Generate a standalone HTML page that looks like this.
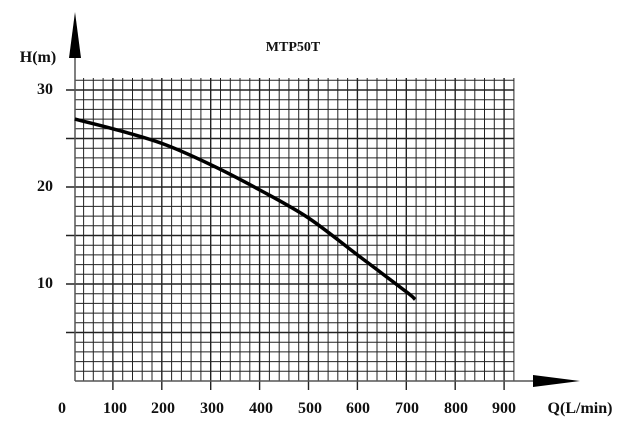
<!DOCTYPE html><html><head><style>body{margin:0;background:#fff}</style></head><body>
<svg width="623" height="437" xmlns="http://www.w3.org/2000/svg" font-family="Liberation Serif, serif" font-weight="bold">
<rect width="623" height="437" fill="#fff"/>
<g id="g" stroke="#222" stroke-width="1.1"></g>
<line x1="75" y1="50" x2="75" y2="381" stroke="#555" stroke-width="1.5"/>
<polygon points="75,12 69,58 81,58" fill="#000"/>
<line x1="75" y1="381" x2="540" y2="381" stroke="#555" stroke-width="1.5"/>
<polygon points="580,381 533,375 533,387" fill="#000"/>
<path id="c" fill="none" stroke="#000" stroke-width="3.5" d=""/>
<g font-size="16" text-anchor="middle" fill="#111">
<text x="62" y="413">0</text><text x="115" y="413">100</text><text x="163" y="413">200</text><text x="212" y="413">300</text><text x="261" y="413">400</text><text x="310" y="413">500</text><text x="358" y="413">600</text><text x="407" y="413">700</text><text x="456" y="413">800</text><text x="504" y="413">900</text>
<text x="580" y="413">Q(L/min)</text>
<text x="53" y="94" text-anchor="end">30</text><text x="53" y="191" text-anchor="end">20</text><text x="53" y="288" text-anchor="end">10</text>
<text x="38" y="62">H(m)</text>
<text x="293" y="51" font-size="14">MTP50T</text>
</g>
</svg>
<script>
var g=document.getElementById('g'),s='';
var sx=48.9/5;
for(var k=1;k<=46;k++){var x=64+sx*k;if(x<74)continue;var big=(k%5==0);s+='<line x1="'+x.toFixed(1)+'" y1="78" x2="'+x.toFixed(1)+'" y2="'+(big?390:381)+'" stroke-width="'+(big?1.4:1)+'"/>';}
for(var k=1;k<=31;k++){var y=379-9.7*k+2;if(y<78)break;var big=(k%5==0);s+='<line x1="'+(big?66:75)+'" y1="'+y.toFixed(1)+'" x2="514" y2="'+y.toFixed(1)+'" stroke-width="'+(big?1.4:1)+'"/>';}
g.innerHTML=s;
var fx=function(q){return 64+q*0.489},fy=function(h){return 381-h*9.7};
var P=[[22,27],[100,26],[200,24.5],[300,22.3],[400,19.7],[500,16.8],[600,13],[700,9.2],[718,8.4]].map(function(p){return [fx(p[0]),fy(p[1])]});
var d='M'+P[0][0].toFixed(1)+','+P[0][1].toFixed(1);
for(var i=0;i<P.length-1;i++){var p0=P[Math.max(i-1,0)],p1=P[i],p2=P[i+1],p3=P[Math.min(i+2,P.length-1)];
d+='C'+(p1[0]+(p2[0]-p0[0])/6).toFixed(1)+','+(p1[1]+(p2[1]-p0[1])/6).toFixed(1)+' '+(p2[0]-(p3[0]-p1[0])/6).toFixed(1)+','+(p2[1]-(p3[1]-p1[1])/6).toFixed(1)+' '+p2[0].toFixed(1)+','+p2[1].toFixed(1);}
document.getElementById('c').setAttribute('d',d);
</script>
</body></html>
